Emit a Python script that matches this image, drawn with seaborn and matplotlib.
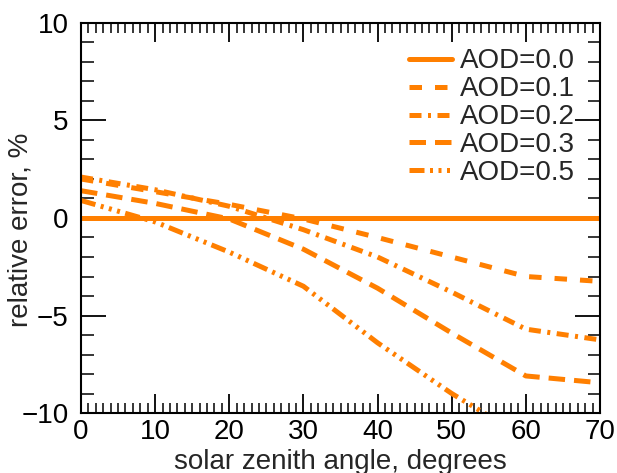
import numpy as np
import pandas as pd
import seaborn as sns
import matplotlib
matplotlib.use("Agg")
import matplotlib.pyplot as plt
from matplotlib.ticker import MultipleLocator

# solar zenith angle, degrees
sza = [0, 10, 20, 30, 40, 50, 60, 70]

# relative error (%), one list per AOD
err_aod00 = [0.0, 0.0, 0.0, 0.0, 0.0, 0.0, 0.0, 0.0]
err_aod01 = [2.0, 1.35, 0.7, -0.05, -1.0, -2.0, -3.0, -3.25]
err_aod02 = [2.1, 1.45, 0.6, -0.6, -2.0, -3.8, -5.7, -6.25]
err_aod03 = [1.4, 0.75, -0.05, -1.6, -3.6, -5.9, -8.1, -8.45]
err_aod05 = [0.9, -0.2, -1.75, -3.5, -6.4, -9.0, -11.3, -12.0]

labels = ["AOD=0.0", "AOD=0.1", "AOD=0.2", "AOD=0.3", "AOD=0.5"]
series = [err_aod00, err_aod01, err_aod02, err_aod03, err_aod05]

rows = []
for lab, vals in zip(labels, series):
    for x, y in zip(sza, vals):
        rows.append({"sza": x, "err": y, "aod": lab})
df = pd.DataFrame(rows)

sns.set_style("ticks")
plt.rcParams["font.family"] = ["Liberation Sans", "DejaVu Sans"]
fs = 20
plt.rcParams["font.size"] = fs

orange = "#ff7f00"
# dash patterns in units of line width (IDL-like styles)
dash_styles = {
    "AOD=0.0": "",
    "AOD=0.1": (2.5, 2.6),
    "AOD=0.2": (2.4, 1.3, 0.6, 1.3),
    "AOD=0.3": (3.3, 1.8),
    "AOD=0.5": (3.0, 1.1, 0.6, 1.1, 0.6, 1.1, 0.6, 1.1),
}

fig = plt.figure(figsize=(6.17, 4.73), dpi=100)
ax = fig.add_axes([81 / 617, 1 - 413 / 473, 519 / 617, 390 / 473])

sns.lineplot(data=df, x="sza", y="err", hue="aod", style="aod",
             palette=[orange] * 5, dashes=dash_styles, linewidth=3.6,
             ax=ax, legend=True)

ax.set_xlim(0, 70)
ax.set_ylim(-10, 10)
ax.set_xticks(np.arange(0, 71, 10))
ax.set_yticks(np.arange(-10, 11, 5))
ax.xaxis.set_minor_locator(MultipleLocator(1))
ax.yaxis.set_minor_locator(MultipleLocator(1))

for s in ax.spines.values():
    s.set_visible(True)
    s.set_linewidth(1.5)
    s.set_color("black")

ax.tick_params(axis="x", which="major", direction="in", length=14, width=1.3,
               top=True, bottom=True, pad=4, labelsize=fs, colors="black")
ax.tick_params(axis="x", which="minor", direction="in", length=7, width=1.3,
               top=True, bottom=True)
ax.tick_params(axis="y", which="major", direction="in", length=18, width=1.3,
               left=True, right=True, pad=9, labelsize=fs, colors="black")
ax.tick_params(axis="y", which="minor", direction="in", length=9, width=1.3,
               left=True, right=True)

ax.set_xlabel("solar zenith angle, degrees", fontsize=fs, labelpad=3)
ax.set_ylabel("relative error, %", fontsize=fs)
ax.yaxis.set_label_coords(-0.092, 0.47)

handles, labs = ax.get_legend_handles_labels()
ax.legend(handles, labs, loc="upper right", bbox_to_anchor=(0.952, 0.935),
          frameon=False, fontsize=fs, handlelength=1.55, handletextpad=0.3,
          labelspacing=0.07, borderpad=0, borderaxespad=0)

plt.savefig("out.png", dpi=100)
